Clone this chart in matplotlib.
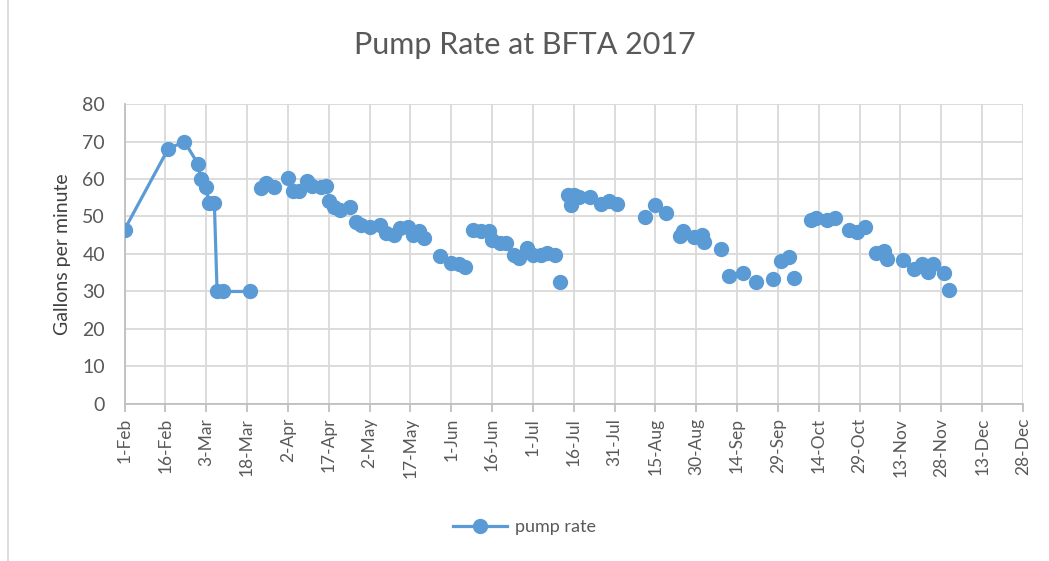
import pandas as pd
import numpy as np
import matplotlib.pyplot as plt
import matplotlib.dates as mdates
from matplotlib.lines import Line2D

BLUE = '#5B9BD5'
GRID = '#D9D9D9'
TEXT = '#595959'

plt.rcParams['font.family'] = ['Lato', 'DejaVu Sans']

# start of the season: these readings are joined by a line
line_dates = ['2017-02-01', '2017-02-17', '2017-02-23', '2017-02-28', '2017-03-01',
              '2017-03-03', '2017-03-04', '2017-03-06', '2017-03-07', '2017-03-09',
              '2017-03-19']
line_rate = [46.5, 68, 70, 64, 60, 58, 53.5, 53.5, 30, 30, 30]

# rest of the year: markers only
point_dates = ['2017-03-23', '2017-03-25', '2017-03-28', '2017-04-02', '2017-04-04',
               '2017-04-06', '2017-04-09', '2017-04-11', '2017-04-14', '2017-04-16',
               '2017-04-17', '2017-04-19', '2017-04-21', '2017-04-25', '2017-04-27',
               '2017-04-29', '2017-05-02', '2017-05-06', '2017-05-08', '2017-05-11',
               '2017-05-13', '2017-05-16', '2017-05-18', '2017-05-20', '2017-05-22',
               '2017-05-28', '2017-06-01', '2017-06-04', '2017-06-06', '2017-06-09',
               '2017-06-12', '2017-06-15', '2017-06-16', '2017-06-19', '2017-06-21',
               '2017-06-24', '2017-06-26', '2017-06-29', '2017-07-01', '2017-07-04',
               '2017-07-06', '2017-07-09', '2017-07-11', '2017-07-14', '2017-07-15',
               '2017-07-16', '2017-07-18', '2017-07-22', '2017-07-26', '2017-07-29',
               '2017-08-01', '2017-08-11', '2017-08-15', '2017-08-19', '2017-08-24',
               '2017-08-25', '2017-08-29', '2017-09-01', '2017-09-02', '2017-09-08',
               '2017-09-11', '2017-09-16', '2017-09-21', '2017-09-27', '2017-09-30',
               '2017-10-03', '2017-10-05', '2017-10-11', '2017-10-13', '2017-10-17',
               '2017-10-20', '2017-10-25', '2017-10-28', '2017-10-31', '2017-11-04',
               '2017-11-07', '2017-11-08', '2017-11-14', '2017-11-18', '2017-11-21',
               '2017-11-23', '2017-11-25', '2017-11-29', '2017-12-01']
point_rate = [57.5, 59, 58, 60.2, 56.8, 56.8, 59.5, 58.2, 58, 58.1,
              54, 52.6, 51.7, 52.6, 48.6, 47.8, 47.3, 47.7, 45.5, 45,
              46.8, 47.3, 45, 46, 44.2, 39.4, 37.5, 37.4, 36.6, 46.4,
              46.2, 46, 43.7, 42.8, 42.8, 39.7, 38.9, 41.5, 39.7, 39.7,
              40.2, 39.7, 32.6, 55.7, 53, 55.7, 55.3, 55.1, 53.2, 54,
              53.2, 49.8, 53, 51, 44.8, 46.2, 44.6, 45, 43.2, 41.4,
              34.2, 35, 32.5, 33.2, 38.2, 39.3, 33.5, 49.1, 49.5, 49.1,
              49.5, 46.3, 45.8, 47.2, 40.2, 40.8, 38.6, 38.3, 36, 37.4,
              35.2, 37.4, 35, 30.3]

y_ticks = [0, 10, 20, 30, 40, 50, 60, 70, 80]

fig = plt.figure(figsize=(10.49, 5.61), dpi=100)
ax = fig.add_axes([0.1187, 0.2799, 0.8565, 0.5347])

ax.plot(pd.to_datetime(line_dates), line_rate, color=BLUE, lw=2.3,
        marker='o', ms=10, zorder=3)
ax.plot(pd.to_datetime(point_dates), point_rate, color=BLUE, ls='none',
        marker='o', ms=10, zorder=3)

start = pd.Timestamp('2017-02-01')
end = pd.Timestamp('2017-12-28')
ax.set_xlim(start, end)
ax.set_ylim(0, 80)
ax.set_yticks(y_ticks)
ax.set_xticks(pd.date_range(start, end, freq='15D'))
ax.xaxis.set_major_formatter(mdates.DateFormatter('%-d-%b'))

ax.grid(True, color=GRID, lw=1.3)
ax.set_axisbelow(True)
for s in ['top', 'right']:
    ax.spines[s].set_visible(False)
for s in ['left', 'bottom']:
    ax.spines[s].set_color('#BFBFBF')
    ax.spines[s].set_linewidth(1.3)

ax.tick_params(axis='x', labelrotation=90, labelsize=12.5, colors='#BFBFBF',
               labelcolor=TEXT, length=6, width=1.3, pad=4)
ax.tick_params(axis='y', labelsize=14, labelcolor=TEXT, length=0, pad=14)

ax.set_ylabel('Gallons per minute', fontsize=14, color='#404040', labelpad=8)
fig.suptitle('Pump Rate at BFTA 2017', fontsize=22, color=TEXT, y=0.945)

handle = Line2D([], [], color=BLUE, lw=2.3, marker='o', ms=10)
fig.legend([handle], ['pump rate'], loc='center', bbox_to_anchor=(0.5, 0.06),
           frameon=False, fontsize=13, labelcolor=TEXT, handlelength=3.0,
           handletextpad=0.4)

fig.add_artist(Line2D([0.008, 0.008], [0, 1], transform=fig.transFigure,
                      color='#D9D9D9', lw=1.3))

fig.savefig('out.png', dpi=100)
